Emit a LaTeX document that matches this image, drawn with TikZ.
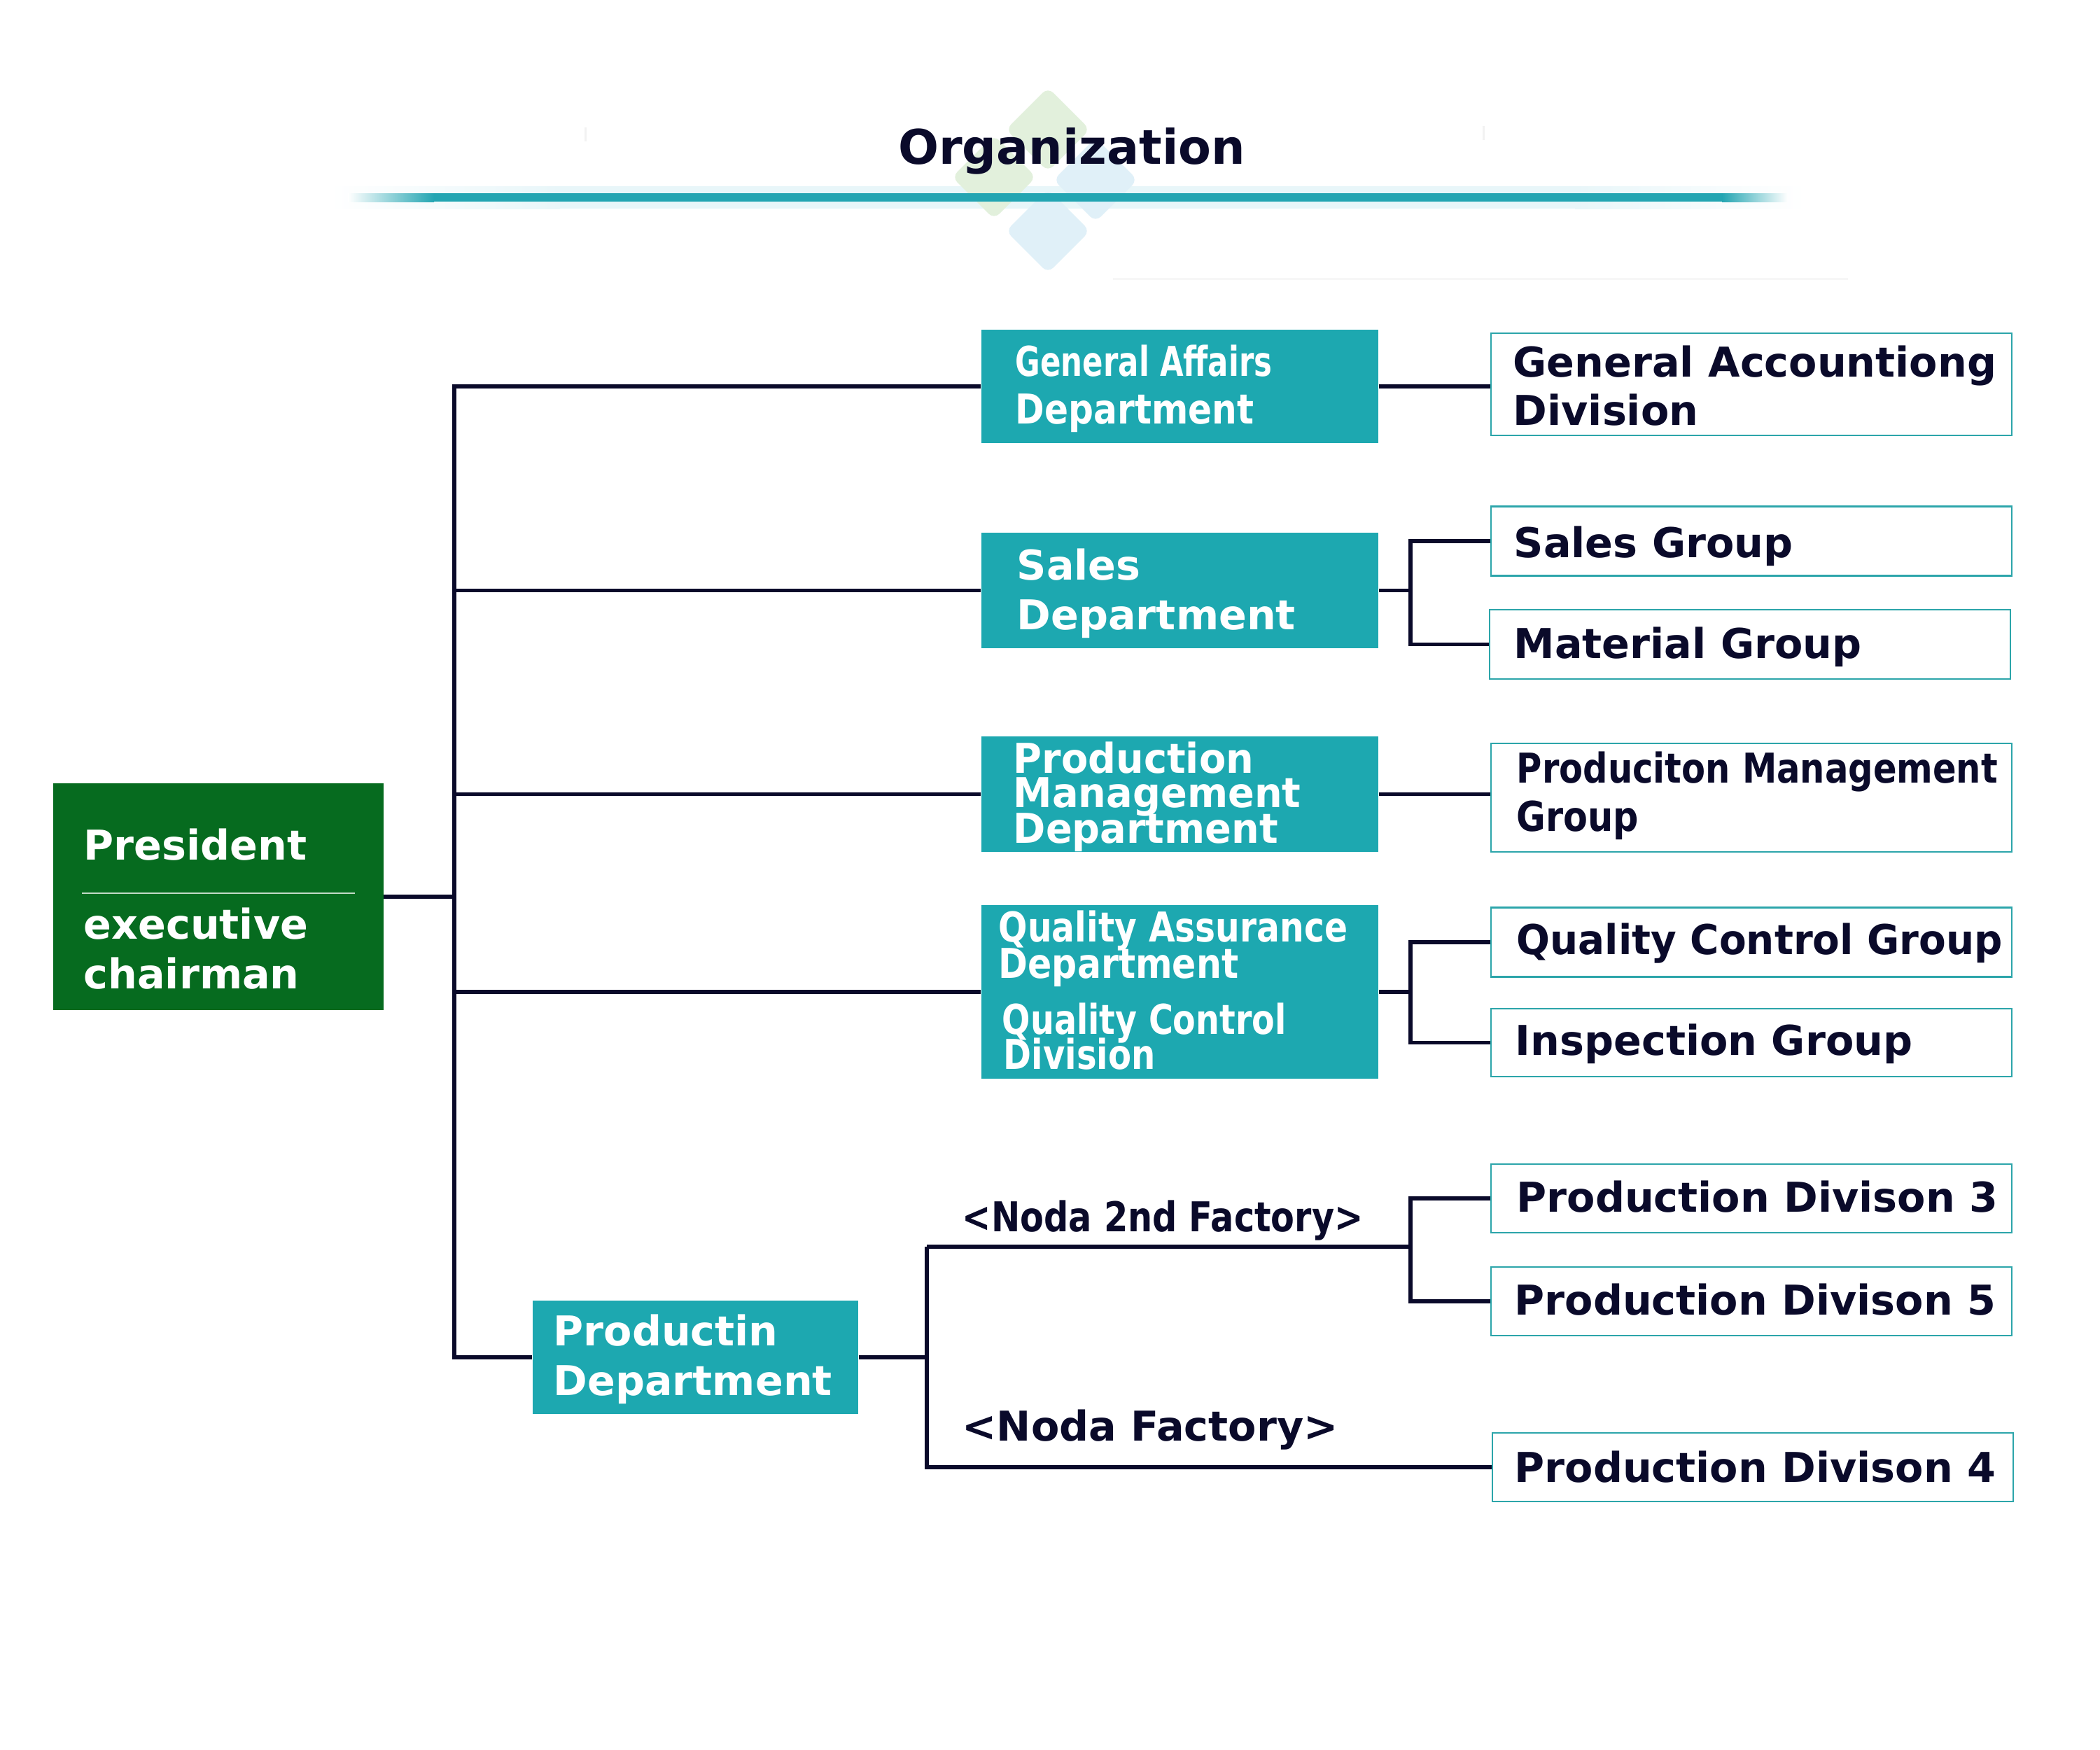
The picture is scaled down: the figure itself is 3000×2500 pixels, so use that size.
\documentclass[tikz,border=0pt]{standalone}
\usepackage{fontspec}
\setmainfont{DejaVu Sans}
\usepackage{graphicx}
\definecolor{tealc}{RGB}{29,168,176}
\definecolor{greenc}{RGB}{6,107,31}
\definecolor{navy}{RGB}{10,10,42}
\definecolor{bordc}{RGB}{44,165,170}
\definecolor{barc}{RGB}{35,165,178}
\definecolor{dgreen}{RGB}{226,240,220}
\definecolor{dblue}{RGB}{224,240,248}
\definecolor{glow}{RGB}{232,246,249}
\newcommand\fsz{\fontsize{16.7}{20}\selectfont\bfseries}
\newcommand\sqz[2]{\scalebox{#1}[1]{#2}}
\begin{document}
\begin{tikzpicture}[x=0.01cm,y=-0.01cm,
  conn/.style={draw=navy,line width=1.5pt},
  tbox/.style={fill=tealc,inner sep=0,minimum width=5.67cm},
  wbox/.style={draw=bordc,line width=0.6pt,fill=white,inner sep=0,minimum width=7.43cm},
  wtxt/.style={inner sep=0,anchor=base west,font=\fsz,text=navy},
  ttxt/.style={inner sep=0,anchor=base west,font=\fsz,text=white}]
\useasboundingbox (0,0) rectangle (3000,2500);
\fill[white] (0,0) rectangle (3000,2500);
% title bar glow
\shade[left color=white, right color=glow] (470,266) rectangle (800,298);
\fill[glow] (800,266) rectangle (2250,298);
\shade[left color=glow, right color=white] (2250,266) rectangle (2580,298);
% faint background ornaments
\fill[dgreen, rounded corners=3pt] (1497,125) -- (1557,185) -- (1497,245) -- (1437,185) -- cycle;
\fill[dgreen, rounded corners=3pt] (1420,193) -- (1480,253) -- (1420,313) -- (1360,253) -- cycle;
\fill[dblue, rounded corners=3pt] (1565,197) -- (1625,257) -- (1565,317) -- (1505,257) -- cycle;
\fill[dblue, rounded corners=3pt] (1497,270) -- (1557,330) -- (1497,390) -- (1437,330) -- cycle;
\fill[gray!6] (1590,397) rectangle (2640,400);
\fill[gray!10] (835,182) rectangle (838,202);
\fill[gray!10] (2118,180) rectangle (2121,200);
% title bar
\shade[left color=white, right color=barc] (497,276) rectangle (620,288);
\fill[barc] (620,276) rectangle (2460,288);
\shade[left color=barc, right color=white] (2460,276) rectangle (2554,288);
\node[font=\fontsize{19.4}{23}\selectfont\bfseries, text=navy, anchor=base, inner sep=0] (title) at (1531,235) {Organization};

% boxes
\node[fill=greenc, inner sep=0, minimum width=4.71cm, minimum height=3.24cm] (pres) at (312,1281) {};
\node[tbox, minimum height=1.62cm] (ga) at (1685.5,552) {};
\node[tbox, minimum height=1.65cm] (sales) at (1685.5,843.5) {};
\node[tbox, minimum height=1.64cm] (pm) at (1685.5,1134.5) {};
\node[tbox, minimum height=2.48cm] (qa) at (1685.5,1417) {};
\node[tbox, minimum width=4.65cm, minimum height=1.62cm] (prod) at (993.5,1939) {};
\node[wbox, minimum height=1.46cm] (gad) at (2502,549) {};
\node[wbox, minimum height=0.99cm] (sg) at (2502,773) {};
\node[wbox, minimum height=0.99cm] (mg) at (2500,920.5) {};
\node[wbox, minimum height=1.55cm] (pmg) at (2502,1139.5) {};
\node[wbox, minimum height=0.99cm] (qcg) at (2502,1346) {};
\node[wbox, minimum height=0.97cm] (ig) at (2502,1489.5) {};
\node[wbox, minimum height=0.98cm] (pd3) at (2502,1712) {};
\node[wbox, minimum height=0.98cm] (pd5) at (2502,1859) {};
\node[wbox, minimum height=0.98cm] (pd4) at (2504,2096) {};

% president text
\node[ttxt] (p1) at (119,1228) {President};
\draw[white!75!greenc, line width=0.5pt] (117,1276) -- (507,1276);
\node[ttxt] (p2) at (119,1341) {executive};
\node[ttxt] (p3) at (119,1412) {chairman};

% teal box texts
\node[ttxt] (ga1) at (1450,537) {\sqz{0.74}{General Affairs}};
\node[ttxt] (ga2) at (1450,605) {\sqz{0.855}{Department}};
\node[ttxt] (sa1) at (1452,828) {Sales};
\node[ttxt] (sa2) at (1452,899) {Department};
\node[ttxt] (pm1) at (1447,1104) {\sqz{0.95}{Production}};
\node[ttxt] (pm2) at (1447,1153) {\sqz{0.95}{Management}};
\node[ttxt] (pm3) at (1447,1204) {\sqz{0.95}{Department}};
\node[ttxt] (qa1) at (1426,1345) {\sqz{0.83}{Quality Assurance}};
\node[ttxt] (qa2) at (1426,1397) {\sqz{0.86}{Department}};
\node[ttxt] (qa3) at (1431,1477) {\sqz{0.81}{Quality Control}};
\node[ttxt] (qa4) at (1433,1527) {\sqz{0.82}{Division}};
\node[ttxt] (pr1) at (790,1922) {Productin};
\node[ttxt] (pr2) at (790,1993) {Department};

% white box texts
\node[wtxt] (gd1) at (2161,538) {General Accountiong};
\node[wtxt] (gd2) at (2161,607) {Division};
\node[wtxt] (sgt) at (2162,796) {Sales Group};
\node[wtxt] (mgt) at (2162,940) {Material Group};
\node[wtxt] (pg1) at (2166,1118) {\sqz{0.844}{Produciton Management}};
\node[wtxt] (pg2) at (2166,1187) {\sqz{0.866}{Group}};
\node[wtxt] (qct) at (2166,1363) {\sqz{0.96}{Quality Control Group}};
\node[wtxt] (igt) at (2164,1507) {Inspection Group};
\node[wtxt] (d3t) at (2166,1731) {Production Divison 3};
\node[wtxt] (d5t) at (2163,1878) {Production Divison 5};
\node[wtxt] (d4t) at (2163,2117) {Production Divison 4};

% factory labels
\node[wtxt] (n2) at (1374,1759) {\sqz{0.84}{<Noda 2nd Factory>}};
\node[wtxt] (n1) at (1374,2058) {<Noda Factory>};

% connectors
\coordinate (tt) at (649,552);
\coordinate (sx) at (2015,0);
\coordinate (px) at (1324,0);
\coordinate (up) at (1324,1781);
\draw[conn] (ga.west) -- (ga.west -| tt) -- (prod.west -| tt) -- (prod.west);
\draw[conn] (pres.east) -- (pres.east -| tt);
\draw[conn] (sales.west -| tt) -- (sales.west);
\draw[conn] (pm.west -| tt) -- (pm.west);
\draw[conn] (qa.west -| tt) -- (qa.west);
\draw[conn] (ga.east) -- (ga.east -| gad.west);
\draw[conn] (sales.east) -- (sales.east -| sx);
\draw[conn] (sg.west) -- (sg.west -| sx) -- (mg.west -| sx) -- (mg.west);
\draw[conn] (pm.east) -- (pm.east -| pmg.west);
\draw[conn] (qa.east) -- (qa.east -| sx);
\draw[conn] (qcg.west) -- (qcg.west -| sx) -- (ig.west -| sx) -- (ig.west);
\draw[conn] (prod.east) -- (prod.east -| px);
\draw[conn] (up) -- (pd4.west -| px) -- (pd4.west);
\draw[conn] (up) -- (up -| sx);
\draw[conn] (pd3.west) -- (pd3.west -| sx) -- (pd5.west -| sx) -- (pd5.west);
\end{tikzpicture}
\end{document}
